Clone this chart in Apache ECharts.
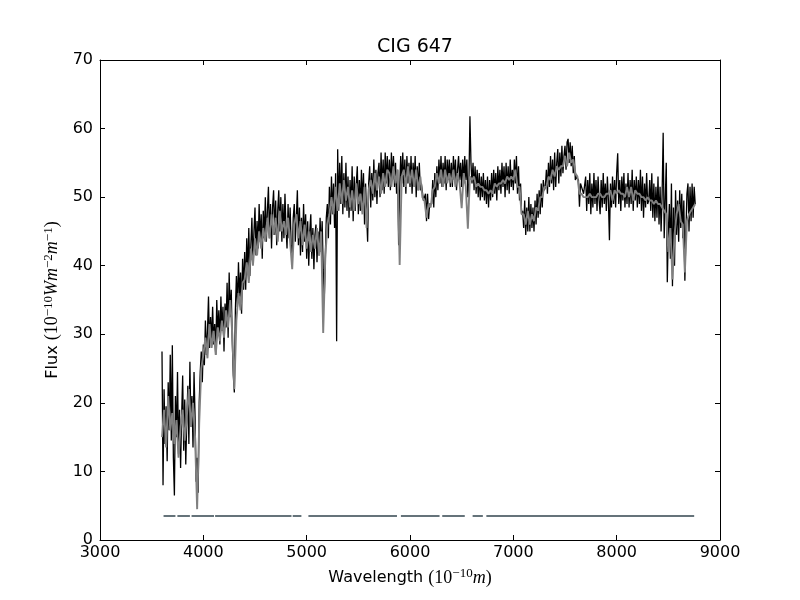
<!DOCTYPE html>
<html>
<head>
<meta charset="utf-8">
<title>CIG 647</title>
<script src="https://cdn.jsdelivr.net/npm/echarts@6/dist/echarts.min.js"></script>
<style>
  html, body { margin: 0; padding: 0; background: #fff; }
  #chart { width: 800px; height: 600px; }
</style>
</head>
<body>
<div id="chart"></div>
<script>
// observed spectrum, one value every 10 A starting at 3600 A
var OBS_START = 3600;
var OBS_STEP = 10;
var obsFlux = [
  27.5, 8.0, 22.0, 14.0, 19.5, 11.5, 23.0, 16.0, 27.0, 14.5,
  28.4, 12.0, 6.5, 21.0, 15.0, 24.5, 12.5, 19.0, 10.5, 18.0,
  24.0, 13.0, 20.5, 11.0, 17.5, 22.5, 14.0, 26.0, 16.5, 21.0,
  13.5, 24.5, 18.0, 8.5, 12.0, 6.9, 20.0, 24.5, 27.5, 23.0,
  28.5, 25.5, 32.0, 27.0, 30.5, 35.5, 28.0, 32.5, 29.0, 34.0,
  28.5, 31.5, 27.0, 35.0, 30.0, 33.5, 28.5, 35.5, 30.5, 34.0,
  27.5, 34.5, 31.0, 37.5, 29.5, 39.0, 32.5, 36.5, 29.0, 24.0,
  21.5, 33.5, 38.5, 34.0, 40.5, 35.5, 39.0, 33.0, 41.0, 36.5,
  42.0, 36.5, 44.0, 39.0, 45.5, 38.5, 43.0, 47.0, 40.5, 45.0,
  48.5, 41.5, 46.5, 42.5, 49.0, 43.5, 47.5, 41.0, 48.0, 44.0,
  50.0, 43.5, 48.0, 51.5, 44.0, 49.0, 42.5, 48.5, 51.0, 44.5,
  49.5, 43.0, 48.0, 51.0, 45.0, 50.0, 43.5, 49.0, 44.0, 50.5,
  45.5, 42.5, 49.0, 44.0, 48.5, 43.0, 40.5, 47.0, 49.0, 43.5,
  47.0, 51.0, 43.0, 48.5, 41.5, 47.0, 42.0, 49.0, 43.5, 47.5,
  41.0, 46.5, 40.0, 45.0, 47.5, 41.0, 45.5, 39.5, 44.5, 46.0,
  40.5, 45.0, 41.5, 47.0, 42.0, 46.5, 39.5, 35.0, 41.0, 47.0,
  49.0, 44.0, 51.5, 46.0, 53.0, 47.5, 52.0, 45.5, 53.5, 29.0,
  57.0, 48.0, 55.0, 49.0, 56.0, 47.5, 53.5, 48.5, 55.0, 48.0,
  53.0, 47.0, 52.5, 48.0, 54.5, 46.5, 53.0, 48.0, 52.0, 54.5,
  47.5, 52.5, 48.0, 54.0, 49.0, 53.5, 46.0, 52.0, 47.5, 43.5,
  52.0, 54.5, 48.5, 53.5, 49.5, 55.5, 50.0, 54.0, 49.0, 53.5,
  55.0, 50.0, 56.5, 51.0, 55.5, 50.5, 56.5, 52.0, 56.0, 51.5,
  55.5, 51.0, 56.5, 52.5, 56.0, 51.5, 55.0, 50.5, 54.0, 43.0,
  51.0, 56.0, 52.0, 56.5, 51.5, 55.5, 50.5, 56.0, 52.0, 55.0,
  51.5, 56.0, 50.5, 55.0, 52.0, 56.0, 50.0, 54.5, 51.0, 55.0,
  51.0, 52.0, 52.0, 49.5, 50.0, 50.5, 46.5, 50.5, 46.8, 49.0,
  49.0, 49.0, 52.5, 48.5, 53.5, 50.0, 54.5, 51.0, 55.5, 52.0,
  56.0, 51.5, 55.0, 52.0, 56.0, 51.0, 55.5, 52.5, 55.5, 51.5,
  55.0, 51.5, 56.0, 52.5, 55.5, 51.0, 54.0, 56.0, 52.5, 55.0,
  51.5, 55.5, 52.0, 56.0, 52.5, 55.5, 50.0, 52.0, 61.8, 55.0,
  52.0, 55.0, 51.0, 54.5, 50.5, 54.0, 50.0, 53.5, 49.5, 53.0,
  50.0, 53.5, 49.5, 52.5, 49.0, 53.0, 48.5, 52.5, 49.5, 53.5,
  50.0, 54.0, 50.5, 53.5, 49.5, 54.5, 51.0, 54.0, 50.5, 55.0,
  51.5, 54.5, 50.0, 55.0, 51.0, 54.5, 50.5, 55.5, 51.5, 54.0,
  51.0, 55.5, 52.0, 56.0, 50.5, 54.5, 49.5, 52.0, 47.5, 48.0,
  45.5, 49.5, 44.5, 48.5, 45.0, 50.0, 45.0, 49.0, 45.5, 48.5,
  45.0, 49.5, 46.0, 50.5, 47.0, 51.0, 47.5, 52.0, 48.5, 52.5,
  51.0, 51.5, 54.0, 50.5, 55.0, 51.5, 56.0, 52.0, 55.5, 51.0,
  56.5, 51.5, 55.0, 57.0, 52.0, 56.5, 53.0, 57.5, 53.5, 56.0,
  57.5, 54.0, 58.0, 58.5, 55.0, 58.0, 54.5, 57.5, 53.5, 56.0,
  52.5, 53.0, 53.0, 52.5, 48.6, 52.0, 51.5, 51.0, 50.5, 50.5,
  53.0, 48.0, 52.5, 49.0, 53.5, 47.5, 52.0, 48.5, 53.5, 49.0,
  52.5, 48.0, 53.0, 49.5, 47.5, 52.5, 48.5, 53.5, 49.0, 52.0,
  48.0, 53.0, 49.5, 43.7, 52.0, 48.5, 53.0, 49.0, 52.5, 48.5,
  53.5, 56.4, 49.0, 52.5, 48.0, 53.0, 49.5, 53.5, 48.5, 52.0,
  49.0, 53.5, 48.5, 52.5, 49.0, 54.0, 48.0, 52.5, 49.5, 53.0,
  48.5, 52.5, 49.0, 54.0, 48.0, 53.0, 47.0, 52.0, 48.5, 53.5,
  49.0, 49.5, 52.5, 48.0, 53.5, 47.0, 52.0, 46.5, 51.5, 47.0,
  53.0, 46.0, 51.5, 45.0, 50.5, 59.4, 44.0, 49.5, 55.0, 37.6,
  45.0, 49.0, 41.0, 52.0, 37.0, 48.5, 40.0, 51.0, 44.5, 49.5,
  43.5, 51.0, 45.5, 50.5, 44.0, 49.5, 37.8, 45.0, 50.5, 52.0,
  45.0, 51.5, 46.5, 52.0, 47.0, 51.5, 49.0
];

// synthetic (model) spectrum, one value every 20 A starting at 3600 A
var MOD_START = 3600;
var MOD_STEP = 20;
var modFlux = [
  15.0, 19.0, 13.5, 21.0, 16.0, 18.5, 14.0, 17.5, 12.0, 16.5,
  19.0, 14.5, 18.0, 22.0, 16.5, 20.0, 15.0, 4.5, 17.0, 25.0,
  27.0, 29.5, 26.5, 31.5, 28.0, 30.5, 27.0, 31.0, 29.0, 32.0,
  29.5, 33.5, 31.0, 35.0, 30.0, 22.0, 32.0, 36.0, 33.5, 37.5,
  38.0, 40.5, 37.5, 42.5, 40.0, 44.0, 41.5, 45.0, 42.5, 45.5,
  43.5, 47.0, 44.0, 47.5, 44.5, 47.0, 43.5, 48.0, 45.0, 46.5,
  44.5, 47.0, 43.5, 39.5, 46.0, 47.5, 44.0, 46.5, 43.0, 46.0,
  42.5, 45.0, 42.0, 44.5, 42.5, 45.5, 41.5, 45.0, 30.2, 41.0,
  46.0, 47.5, 50.0, 47.5, 51.5, 48.0, 52.0, 49.0, 52.5, 49.5,
  51.5, 48.5, 51.0, 48.0, 52.0, 49.0, 50.5, 47.5, 51.5, 45.5,
  51.0, 52.5, 50.5, 53.5, 51.0, 53.0, 50.5, 53.5, 51.5, 54.0,
  53.5, 51.5, 54.5, 52.0, 54.0, 40.1, 53.0, 54.0, 51.5, 54.5,
  52.0, 54.0, 51.5, 54.0, 51.0, 53.0, 50.0, 49.5, 47.0, 49.0,
  48.5, 51.0, 51.5, 53.5, 52.0, 54.0, 51.5, 54.0, 52.0, 53.5,
  52.0, 54.0, 51.5, 53.5, 52.0, 48.4, 53.5, 51.5, 45.4, 53.0,
  52.5, 53.0, 51.5, 52.0, 51.5, 51.5, 51.0, 51.0, 50.5, 51.0,
  50.5, 52.0, 51.5, 52.0, 52.0, 52.5, 52.0, 53.0, 52.5, 53.0,
  52.5, 54.0, 51.5, 51.5, 47.5, 47.5, 46.0, 48.0, 46.0, 47.5,
  46.5, 48.5, 48.0, 50.0, 50.0, 51.5, 51.5, 53.0, 52.5, 54.0,
  53.0, 54.5, 54.0, 54.5, 54.5, 56.0, 54.5, 56.5, 55.0, 55.5,
  53.5, 53.0, 50.5, 50.5, 50.0, 50.0, 50.0, 50.5, 50.0, 50.0,
  50.0, 50.5, 50.5, 50.0, 50.0, 50.5, 50.5, 51.0, 49.5, 51.0,
  50.5, 51.0, 50.5, 50.5, 50.0, 51.5, 50.0, 51.5, 49.5, 51.0,
  50.5, 50.5, 50.0, 50.0, 49.5, 50.0, 49.5, 49.5, 49.0, 49.5,
  49.0, 49.0, 48.5, 48.0, 47.5, 42.0, 45.5, 38.0, 44.5, 47.5,
  49.0, 46.5, 46.0, 39.0, 46.5, 47.5, 48.0, 48.5, 49.0
];

// fitted wavelength windows (mask), drawn as a flat line near the bottom
var maskStart = [3615, 3749, 3886, 4114, 4865, 5017, 5912, 6312, 6606, 6739];
var maskEnd   = [3730, 3870, 4103, 4853, 4949, 5874, 6286, 6530, 6705, 8750];
var MASK_LEVEL = 3.5;

var xTicks = [3000, 4000, 5000, 6000, 7000, 8000, 9000];
var yTicks = [0, 10, 20, 30, 40, 50, 60, 70];

function toPairs(start, step, values) {
  return values.map(function (v, i) { return [start + i * step, v]; });
}

var maskData = [];
for (var i = 0; i < maskStart.length; i++) {
  maskData.push([maskStart[i], MASK_LEVEL], [maskEnd[i], MASK_LEVEL]);
  if (i < maskStart.length - 1) maskData.push([maskEnd[i] + 1, null]);
}

var FONT = 'DejaVu Sans';
var MATH = 'Liberation Serif';

var mathRich = {
  t: { fontFamily: FONT, fontSize: 16, color: '#000' },
  p: { fontFamily: MATH, fontSize: 18, color: '#000' },
  it: { fontFamily: MATH, fontSize: 18, fontStyle: 'italic', color: '#000' },
  sup: { fontFamily: MATH, fontSize: 13, color: '#000', padding: [0, 0, 9, 0] }
};

var chartDom = document.getElementById('chart');
var myChart = echarts.init(chartDom, null, { renderer: 'canvas' });

var baseX = {
  type: 'value',
  min: xTicks[0],
  max: xTicks[xTicks.length - 1],
  interval: 1000,
  axisLine: { show: true, onZero: false, lineStyle: { color: '#000', width: 1 } },
  axisTick: { show: true, inside: true, length: 5, lineStyle: { color: '#000' } },
  splitLine: { show: false }
};
var baseY = {
  type: 'value',
  min: yTicks[0],
  max: yTicks[yTicks.length - 1],
  interval: 10,
  axisLine: { show: true, onZero: false, lineStyle: { color: '#000', width: 1 } },
  axisTick: { show: true, inside: true, length: 5, lineStyle: { color: '#000' } },
  splitLine: { show: false }
};

var option = {
  backgroundColor: '#fff',
  animation: false,
  title: {
    text: 'CIG 647',
    left: 410,
    textAlign: 'center',
    top: 33,
    textStyle: { fontFamily: FONT, fontSize: 19, fontWeight: 'normal', color: '#000' }
  },
  grid: { left: 100, right: 80, top: 60, bottom: 60 },
  xAxis: [
    Object.assign({}, baseX, {
      position: 'bottom',
      axisLabel: {
        show: true, fontFamily: FONT, fontSize: 16, color: '#000', margin: 5,
        formatter: function (v) { return String(v); }
      },
      name: '{t|Wavelength }{p|(10}{sup|−10}{it|m}{p|)}',
      nameLocation: 'middle',
      nameGap: 27,
      nameTextStyle: { rich: mathRich }
    }),
    Object.assign({}, baseX, {
      position: 'top',
      axisLabel: { show: false }
    })
  ],
  yAxis: [
    Object.assign({}, baseY, {
      position: 'left',
      axisLabel: {
        show: true, fontFamily: FONT, fontSize: 16, color: '#000', margin: 7,
        formatter: function (v) { return String(v); }
      },
      name: '{t|Flux }{p|(10}{sup|−10}{it|Wm}{sup|−2}{it|m}{sup|−1}{p|)}',
      nameLocation: 'middle',
      nameRotate: 90,
      nameGap: 34,
      nameTextStyle: { rich: mathRich }
    }),
    Object.assign({}, baseY, {
      position: 'right',
      axisLabel: { show: false }
    })
  ],
  series: [
    {
      name: 'observed',
      type: 'line',
      xAxisIndex: 0,
      yAxisIndex: 0,
      data: toPairs(OBS_START, OBS_STEP, obsFlux),
      showSymbol: false,
      symbol: 'none',
      lineStyle: { color: '#000', width: 1.3 },
      silent: true
    },
    {
      name: 'model',
      type: 'line',
      xAxisIndex: 0,
      yAxisIndex: 0,
      data: toPairs(MOD_START, MOD_STEP, modFlux),
      showSymbol: false,
      symbol: 'none',
      lineStyle: { color: '#808080', width: 1.9 },
      silent: true
    },
    {
      name: 'mask',
      type: 'line',
      xAxisIndex: 0,
      yAxisIndex: 0,
      data: maskData,
      connectNulls: false,
      showSymbol: false,
      symbol: 'none',
      lineStyle: { color: '#65737a', width: 2 },
      silent: true
    }
  ]
};

option && myChart.setOption(option);
</script>
</body>
</html>
